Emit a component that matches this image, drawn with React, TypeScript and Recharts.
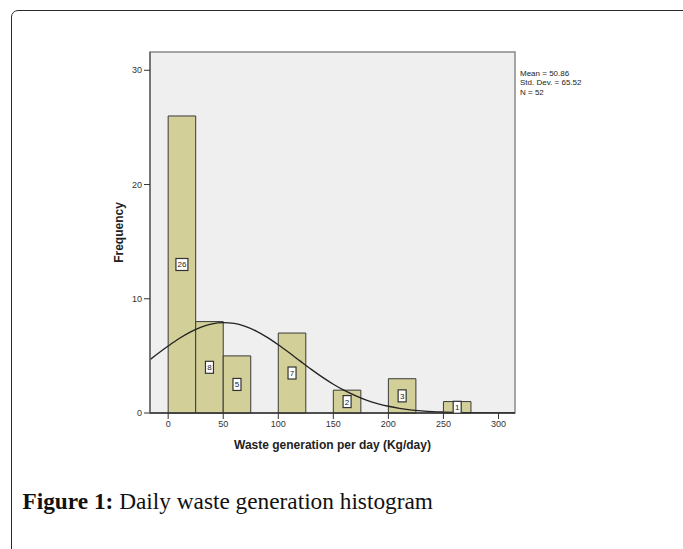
import React from "react";
import {
  ComposedChart,
  XAxis,
  YAxis,
  Line,
  Scatter,
  ReferenceArea,
} from "recharts";

// ---- data ----
const binStarts = [0, 25, 50, 100, 150, 200, 250];
const binWidth = 25;
const counts = [26, 8, 5, 7, 2, 3, 1];

const curveX = [-16.5, 0, 10, 20, 30, 40, 50, 60, 70, 80, 90, 100, 110, 120, 130, 140, 150, 160, 170, 180, 190, 200, 210, 220, 230, 240, 250, 260, 270, 280, 290, 300, 315];
const curveY = [4.67, 5.86, 6.52, 7.08, 7.52, 7.81, 7.91, 7.84, 7.58, 7.17, 6.62, 5.97, 5.27, 4.54, 3.82, 3.14, 2.52, 1.98, 1.52, 1.13, 0.83, 0.59, 0.41, 0.28, 0.19, 0.12, 0.08, 0.05, 0.03, 0.02, 0.01, 0.005, 0.0];

const xTicks = [0, 50, 100, 150, 200, 250, 300];
const yTicks = [0, 10, 20, 30];
const xDomain: [number, number] = [-16.5, 315];
const yDomain: [number, number] = [0, 31.6];

const statsLines = ["Mean = 50.86", "Std. Dev. = 65.52", "N = 52"];
const xTitle = "Waste generation per day (Kg/day)";
const yTitle = "Frequency";
const captionBold = "Figure 1:";
const captionText = " Daily waste generation histogram";

const curveData = curveX.map((x, i) => ({ x, y: curveY[i] }));
const labelData = binStarts.map((s, i) => ({ x: s + binWidth / 2, y: counts[i] / 2, v: counts[i] }));

const SANS = "'Liberation Sans', Arial, Helvetica, sans-serif";

const LabelBox = (props: any) => {
  const { cx, cy, payload } = props;
  if (cx == null || cy == null) return null;
  const txt = String(payload.v);
  const w = txt.length > 1 ? 12 : 8;
  return (
    <g>
      <rect x={cx - w / 2} y={cy - 6} width={w} height={12} fill="#ffffff" stroke="#333" strokeWidth={1.2} />
      <text x={cx} y={cy + 3} textAnchor="middle" fontSize={8} fontFamily={SANS} fill="#222">
        {txt}
      </text>
    </g>
  );
};

export default function App() {
  return (
    <div style={{ position: "absolute", left: 0, top: 0, width: 683, height: 549, background: "#fff", overflow: "hidden" }}>
      <div
        style={{
          position: "absolute",
          left: 11,
          top: 10,
          width: 690,
          height: 600,
          border: "1.5px solid #2a2a2a",
          borderRadius: 7,
          boxSizing: "border-box",
        }}
      />
      <div style={{ position: "absolute", left: 0, top: 0 }}>
        <ComposedChart
          width={683}
          height={549}
          margin={{ top: 52, right: 168, bottom: 100, left: 110 }}
        >
          <XAxis
            dataKey="x"
            type="number"
            domain={xDomain}
            ticks={xTicks}
            allowDataOverflow
            height={36}
            tickSize={6}
            tickLine={{ stroke: "#333" }}
            axisLine={{ stroke: "#333", strokeWidth: 1.5 }}
            tick={{ fontSize: 9, fontFamily: SANS, fill: "#333" }}
            label={{
              value: xTitle,
              position: "insideBottom",
              offset: 0,
              style: { fontSize: 12, fontWeight: "bold", fontFamily: SANS, fill: "#222" },
            }}
          />
          <YAxis
            type="number"
            domain={yDomain}
            ticks={yTicks}
            allowDataOverflow
            width={40}
            tickSize={6}
            tickLine={{ stroke: "#333" }}
            axisLine={{ stroke: "#666", strokeWidth: 1.5 }}
            tick={{ fontSize: 9, fontFamily: SANS, fill: "#333" }}
            label={{
              value: yTitle,
              angle: -90,
              position: "insideLeft",
              offset: 9,
              style: { fontSize: 12, fontWeight: "bold", fontFamily: SANS, fill: "#222", textAnchor: "middle" },
            }}
          />
          <ReferenceArea
            x1={xDomain[0]}
            x2={xDomain[1]}
            y1={yDomain[0]}
            y2={yDomain[1]}
            fill="#efefef"
            fillOpacity={1}
            stroke="#8a8a8a"
            strokeWidth={1.5}
          />
          {binStarts.map((s, i) => (
            <ReferenceArea
              key={s}
              x1={s}
              x2={s + binWidth}
              y1={0}
              y2={counts[i]}
              fill="#d3cf99"
              fillOpacity={1}
              stroke="#3a3a3a"
              strokeWidth={1}
            />
          ))}
          <Line
            data={curveData}
            dataKey="y"
            type="monotone"
            stroke="#222"
            strokeWidth={1.3}
            dot={false}
            activeDot={false}
            isAnimationActive={false}
          />
          <Scatter data={labelData} dataKey="y" shape={LabelBox} isAnimationActive={false} />
        </ComposedChart>
      </div>
      <svg style={{ position: "absolute", left: 0, top: 0 }} width={683} height={549}>
        {statsLines.map((t, i) => (
          <text key={t} x={520} y={76 + i * 9.4} fontSize={8} fontFamily={SANS} fill="#222">
            {t}
          </text>
        ))}
        <text x={22.5} y={509} fontSize={23.3} fontFamily="'Liberation Serif', 'Times New Roman', serif" fill="#111">
          <tspan fontWeight="bold">{captionBold}</tspan>
          <tspan>{captionText}</tspan>
        </text>
      </svg>
    </div>
  );
}
